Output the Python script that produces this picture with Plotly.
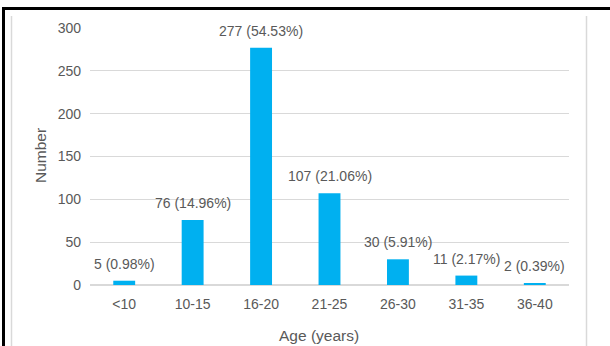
import plotly.graph_objects as go

categories = ["<10", "10-15", "16-20", "21-25", "26-30", "31-35", "36-40"]
counts = [5, 76, 277, 107, 30, 11, 2]
percents = ["0.98%", "14.96%", "54.53%", "21.06%", "5.91%", "2.17%", "0.39%"]
y_ticks = [0, 50, 100, 150, 200, 250, 300]

W, H = 610, 346
L, R, T, B = 90, 41, 28, 61
PW, PH = W - L - R, H - T - B

def px(x):
    return (x - L) / PW

def py(y):
    return (H - B - y) / PH

FONT = "Liberation Sans, Arial, sans-serif"
GRAY = "#595959"

fig = go.Figure()
fig.add_trace(go.Bar(x=categories, y=counts, marker_color="#00B0F0",
                     marker_line_width=0, hoverinfo="skip"))

annotations = []
for c, v, p in zip(categories, counts, percents):
    annotations.append(dict(x=c, y=v, xref="x", yref="y", text=f"{v} ({p})",
                            showarrow=False, yanchor="middle", yshift=17,
                            font=dict(family=FONT, size=14, color=GRAY)))
annotations.append(dict(x=px(319), y=py(335), xref="paper", yref="paper",
                        text="Age (years)", showarrow=False,
                        xanchor="center", yanchor="middle",
                        font=dict(family=FONT, size=15.5, color=GRAY)))
annotations.append(dict(x=px(40), y=py(156), xref="paper", yref="paper",
                        text="Number", showarrow=False, textangle=-90,
                        xanchor="center", yanchor="middle",
                        font=dict(family=FONT, size=15.5, color=GRAY)))

shapes = [
    dict(type="line", xref="paper", yref="paper", x0=px(2), x1=px(612), y0=py(8.5), y1=py(8.5),
         line=dict(color="black", width=3)),
    dict(type="line", xref="paper", yref="paper", x0=px(3.5), x1=px(3.5), y0=py(7), y1=py(350),
         line=dict(color="black", width=3)),
    dict(type="line", xref="paper", yref="paper", x0=px(11.5), x1=px(11.5), y0=py(16), y1=py(350),
         line=dict(color="#d9d9d9", width=1.5)),
    dict(type="line", xref="paper", yref="paper", x0=px(586.5), x1=px(586.5), y0=py(16), y1=py(350),
         line=dict(color="#d9d9d9", width=1.5)),
]

fig.update_layout(
    width=W, height=H,
    margin=dict(l=L, r=R, t=T, b=B, pad=0),
    paper_bgcolor="white", plot_bgcolor="white",
    showlegend=False, bargap=0.68,
    annotations=annotations, shapes=shapes,
    font=dict(family=FONT, size=14, color=GRAY),
    xaxis=dict(showgrid=False, showline=False, zeroline=False,
               tickfont=dict(family=FONT, size=14, color=GRAY), ticks="",
               ticklabelstandoff=9),
    yaxis=dict(range=[0, 300], tickvals=y_ticks, showgrid=True,
               gridcolor="#d9d9d9", gridwidth=1, zeroline=True,
               zerolinecolor="#d9d9d9", zerolinewidth=1.5, showline=False,
               tickfont=dict(family=FONT, size=14, color=GRAY), ticks="",
               ticklabelstandoff=8),
)

fig.write_html("out.html")
